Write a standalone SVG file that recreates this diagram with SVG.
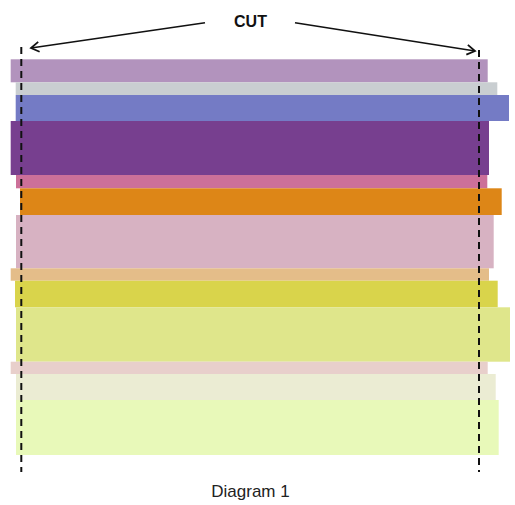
<svg xmlns="http://www.w3.org/2000/svg" width="515" height="505" viewBox="0 0 515 505">
<style>
.lbl{font-family:"Liberation Sans",Arial,sans-serif;fill:#111;text-anchor:middle}
.cut{font-weight:bold;font-size:16px}
.cap{font-size:17px;fill:#222}
.arr{fill:none;stroke:#111;stroke-width:1.6}
.dash{fill:none;stroke:#111;stroke-width:2;stroke-dasharray:7 5}
</style>
<defs>
<marker id="ah" markerUnits="userSpaceOnUse" markerWidth="12" markerHeight="12" refX="10" refY="6" orient="auto">
<path d="M2,1 L10,6 L2,11" fill="none" stroke="#111" stroke-width="1.8"/>
</marker>
</defs>
<rect width="515" height="505" fill="#fff"/>
<g id="layers">
<g id="band1"><rect x="10.7" y="59.3" width="477" height="23" fill="#b293bd"/></g>
<g id="band2"><rect x="15.7" y="82.3" width="481.6" height="12.7" fill="#c9ced1"/></g>
<g id="band3"><rect x="15.7" y="95" width="493.3" height="26" fill="#747bc5"/></g>
<g id="band4"><rect x="10.7" y="121" width="478.3" height="54" fill="#773f8f"/></g>
<g id="band5"><rect x="16" y="175" width="471.3" height="13.3" fill="#cc7099"/></g>
<g id="band6"><rect x="20" y="188.3" width="481.7" height="26.7" fill="#dd8617"/></g>
<g id="band7"><rect x="16" y="215" width="477.7" height="53.3" fill="#d7b2c2"/></g>
<g id="band8"><rect x="10.7" y="268.3" width="478.3" height="12.4" fill="#e4bd89"/></g>
<g id="band9"><rect x="15" y="280.7" width="482.7" height="26.6" fill="#d9d44b"/></g>
<g id="band10"><rect x="16" y="307.3" width="494" height="54.4" fill="#dfe68b"/></g>
<g id="band11"><rect x="10.7" y="361.7" width="477" height="12.3" fill="#e8cfcb"/></g>
<g id="band12"><rect x="16" y="374" width="479.7" height="26" fill="#ebecd3"/></g>
<g id="band13"><rect x="16" y="400" width="482.7" height="55" fill="#e8f9b9"/></g>
</g>
<g id="connectors">
<line class="dash" x1="21.3" y1="47" x2="21.3" y2="472"/>
<line class="dash" x1="479" y1="50" x2="479" y2="472"/>
<line class="arr" x1="205" y1="22.7" x2="31" y2="48" marker-end="url(#ah)"/>
<line class="arr" x1="295" y1="22.7" x2="475" y2="51" marker-end="url(#ah)"/>
</g>
<g id="labels">
<text class="lbl cut" x="250.5" y="26.7">CUT</text>
<text class="lbl cap" x="250.5" y="497">Diagram 1</text>
</g>
</svg>
